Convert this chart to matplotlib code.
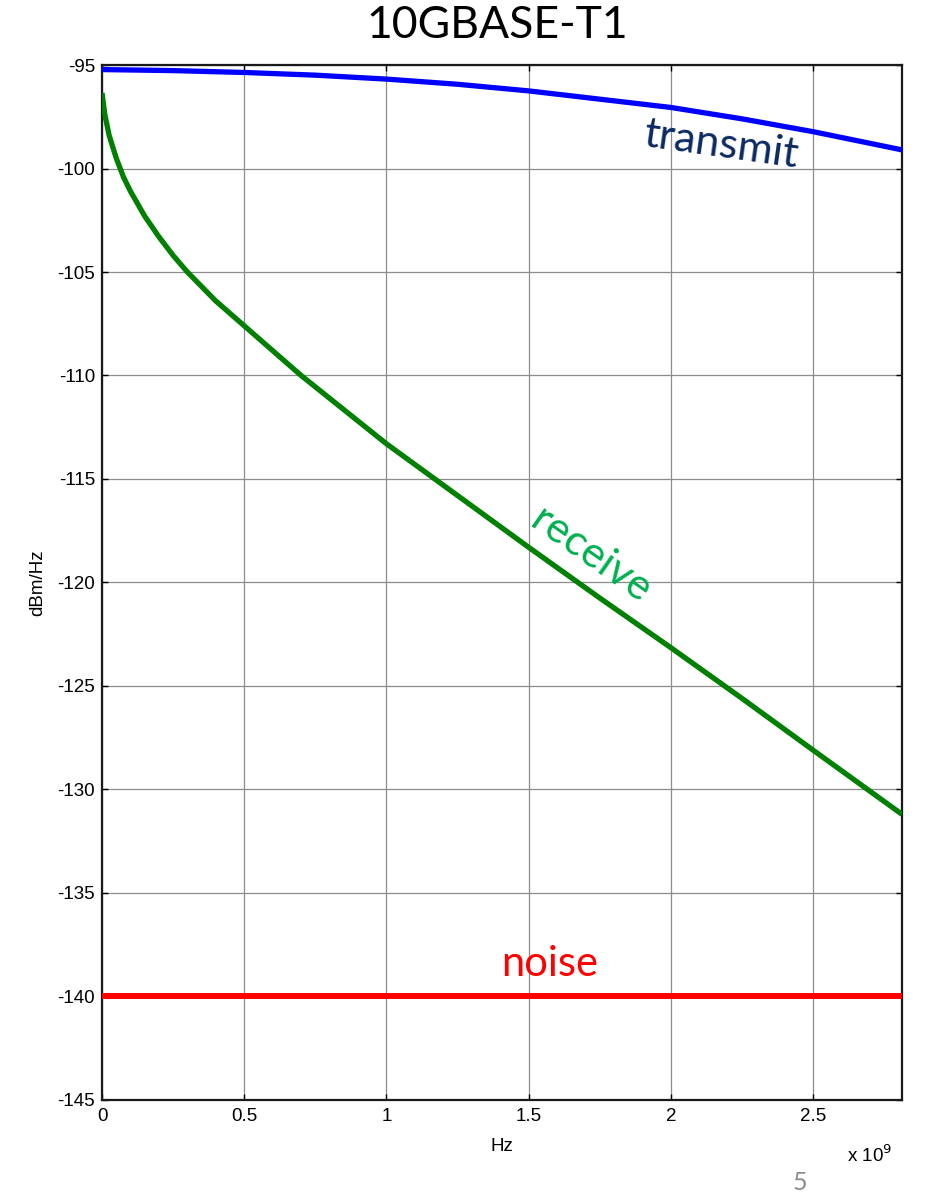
import matplotlib
matplotlib.use("Agg")
import matplotlib.pyplot as plt

plt.rcParams["axes.unicode_minus"] = False

# ---- data (frequency in units of 1e9 Hz, PSD in dBm/Hz) ----
tx_freq = [0.0, 0.25, 0.5, 0.75, 1.0, 1.25, 1.5, 1.75, 2.0, 2.25, 2.5, 2.8125]
tx_psd = [-95.22, -95.27, -95.36, -95.49, -95.68, -95.93, -96.25, -96.65, -97.05, -97.6, -98.22, -99.1]

rx_freq = [0.0, 0.01, 0.025, 0.05, 0.075, 0.1, 0.15, 0.2, 0.25, 0.3, 0.4, 0.5, 0.6, 0.7,
           0.8, 0.9, 1.0, 1.25, 1.5, 1.75, 2.0, 2.25, 2.5, 2.8125]
rx_psd = [-96.35, -97.4, -98.4, -99.5, -100.4, -101.1, -102.3, -103.3, -104.2, -105.0,
          -106.4, -107.6, -108.8, -110.0, -111.1, -112.2, -113.3, -115.8, -118.3, -120.75,
          -123.15, -125.6, -128.1, -131.2]

noise_freq = [0.0, 2.8125]
noise_psd = [-140.0, -140.0]

xticks = [0, 0.5, 1, 1.5, 2, 2.5]
xticklabels = ["0", "0.5", "1", "1.5", "2", "2.5"]
yticks = list(range(-145, -94, 5))

title = "10GBASE-T1"

fig = plt.figure(figsize=(9.25, 11.93), dpi=100)
ax = fig.add_axes([0.1103, 0.0780, 0.8648, 0.8675])

ax.plot(tx_freq, tx_psd, color="#0000ff", lw=3.8, solid_capstyle="butt",
        solid_joinstyle="round", zorder=3)
ax.plot(rx_freq, rx_psd, color="#008000", lw=3.8, solid_capstyle="butt",
        solid_joinstyle="round", zorder=3)
ax.plot(noise_freq, noise_psd, color="#ff0000", lw=4.3, solid_capstyle="butt", zorder=3)

ax.set_xlim(0, 2.8125)
ax.set_ylim(-145, -95)
ax.set_xticks(xticks)
ax.set_xticklabels(xticklabels)
ax.set_yticks(yticks)
ax.grid(True, color="#8c8c8c", lw=0.9, ls="-", zorder=0)
ax.tick_params(direction="in", length=4, width=1, top=True, right=True,
               labelsize=13.5, colors="black")
ax.tick_params(axis="x", pad=6)
ax.tick_params(axis="y", pad=5)
for lab in ax.get_xticklabels() + ax.get_yticklabels():
    lab.set_fontfamily("Liberation Sans")
for s in ax.spines.values():
    s.set_linewidth(1.6)
    s.set_color("#1a1a1a")

ax.set_xlabel("Hz", fontsize=13.5, family="Liberation Sans", labelpad=9)
ax.set_ylabel("dBm/Hz", fontsize=13.5, family="Liberation Sans", labelpad=8)

fig.text(870 / 925, 1 - 1155 / 1193, r"x 10$^{9}$", fontsize=13.5, family="Liberation Sans",
         ha="center", va="center")

ax.text(2.175, -98.85, "transmit", color="#0c2a62", fontsize=31, family="Lato",
        rotation=-8, ha="center", va="center", zorder=4)
ax.text(1.718, -118.7, "receive", color="#00b050", fontsize=31, family="Lato",
        rotation=-35, ha="center", va="center", zorder=4)
ax.text(1.573, -138.45, "noise", color="#ff0000", fontsize=30, family="Lato",
        ha="center", va="center", zorder=4)

fig.text(497 / 925, 1 - 25 / 1193, title, fontsize=32, family="Lato",
         ha="center", va="center")
fig.text(800 / 925, 1 - 1182 / 1193, "5", fontsize=18, family="Lato", color="#8c8c8c",
         ha="center", va="center")

fig.savefig("out.png", dpi=100)
